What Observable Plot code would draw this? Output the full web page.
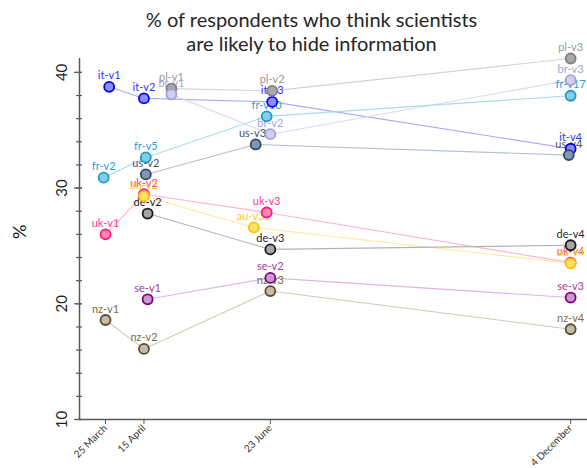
<!DOCTYPE html>
<html><head><meta charset="utf-8">
<script src="https://cdn.jsdelivr.net/npm/d3@7"></script>
<script src="https://cdn.jsdelivr.net/npm/@observablehq/plot@0.6"></script>
<style>body{margin:0;background:#fff}</style>
</head><body><div id="chart"></div>
<script>
// ---- data ----
const countries = ["it","pl","br","fr","us","uk","au","de","se","nz"];
const pointLabels = [
  "it-v1","it-v2","it-v3","it-v4",
  "pl-v1","pl-v2","pl-v3",
  "br-v1","br-v2","br-v3",
  "fr-v2","fr-v5","fr-v10","fr-v17",
  "us-v2","us-v31","us-v4",
  "uk-v1","uk-v2","uk-v3","uk-v4",
  "au-v2","au-v31","au-v4",
  "de-v2","de-v3","de-v4",
  "se-v1","se-v2","se-v3",
  "nz-v1","nz-v2","nz-v3","nz-v4"
];
const pointDates = [
  "2020-03-27","2020-04-15","2020-06-24","2020-12-04",
  "2020-04-30","2020-06-24","2020-12-04",
  "2020-04-30","2020-06-23","2020-12-04",
  "2020-03-24","2020-04-16","2020-06-21","2020-12-04",
  "2020-04-16","2020-06-15","2020-12-03",
  "2020-03-25","2020-04-15","2020-06-21","2020-12-04",
  "2020-04-15","2020-06-14","2020-12-04",
  "2020-04-17","2020-06-23","2020-12-04",
  "2020-04-17","2020-06-23","2020-12-04",
  "2020-03-25","2020-04-15","2020-06-23","2020-12-04"
];
const pointValues = [
  38.75, 37.75, 37.45, 33.4,
  38.6, 38.4, 41.2,
  38.1, 34.66, 39.33,
  30.9, 32.65, 36.2, 37.98,
  31.18, 33.77, 32.85,
  26.0, 29.47, 27.89, 23.56,
  29.3, 26.6, 23.5,
  27.8, 24.7, 25.06,
  20.39, 22.24, 20.54,
  18.6, 16.1, 21.1, 17.8
];
const tickDates = ["2020-03-25","2020-04-15","2020-06-23","2020-12-04"];
const tickLabels = ["25 March","15 April","23 June","4 December"];
const yTicks = [10, 20, 30, 40];
const titleLines = ["% of respondents who think scientists", "are likely to hide information"];
const yLabel = "%";

// ---- styles ----
const palette = {
  it: {label:"#3333ff", fill:"#8c8cff", stroke:"#0000ff", line:"#a8a8ff"},
  pl: {label:"#999999", fill:"#a8a8a8", stroke:"#808080", line:"#d4d4d4"},
  br: {label:"#a3a3dd", fill:"#cfcff0", stroke:"#a0a0d8", line:"#dadaf2"},
  fr: {label:"#1e9fd0", fill:"#84cde3", stroke:"#1a9cc8", line:"#a6dcec"},
  us: {label:"#44546a", fill:"#8596b0", stroke:"#2e4a6a", line:"#b4c0ce"},
  uk: {label:"#ff3399", fill:"#ff85b5", stroke:"#ff1a80", line:"#ffb3d3"},
  au: {label:"#ffc926", fill:"#ffe066", stroke:"#ffc000", line:"#ffe799"},
  de: {label:"#262626", fill:"#a6a6a6", stroke:"#1a1a1a", line:"#b3b3b3"},
  se: {label:"#a040a0", fill:"#cc99cc", stroke:"#800080", line:"#e2b4e2"},
  nz: {label:"#7f6a4a", fill:"#c4bcaa", stroke:"#5c4a2a", line:"#d2cabb"}
};

const parse = d3.utcParse("%Y-%m-%d");
const data = pointLabels.map((l, i) => ({
  label: l,
  country: l.split("-")[0],
  date: parse(pointDates[i]),
  value: pointValues[i]
}));
const tickD = tickDates.map(parse);
const fmt = new Map(tickD.map((d, i) => [+d, tickLabels[i]]));
const xmin = new Date(Date.UTC(2020, 2, 10, 19));
const xmax = new Date(Date.UTC(2020, 11, 13, 5));
const axisColor = "#595959";

const chart = Plot.plot({
  width: 587, height: 468,
  marginTop: 58, marginBottom: 49, marginLeft: 79, marginRight: 0,
  style: {fontFamily: "Lato, 'Open Sans', sans-serif", background: "white"},
  x: {type: "utc", domain: [xmin, xmax], axis: null},
  y: {domain: [10, 41.2], axis: null},
  color: {type: "identity"},
  marks: [
    Plot.ruleX([xmin], {stroke: axisColor, strokeWidth: 1.5}),
    Plot.ruleY([10], {stroke: axisColor, strokeWidth: 1.5}),
    Plot.ruleY(d3.range(10, 41, 2), {x1: xmin, x2: xmin, insetLeft: -3, insetRight: -3, stroke: axisColor, strokeWidth: 1.2}),
    Plot.ruleY(yTicks, {x1: xmin, x2: xmin, insetLeft: -5, insetRight: -3, stroke: axisColor, strokeWidth: 1.2}),
    Plot.text(yTicks, {x: xmin, y: d => d, text: d => String(d), rotate: -90, dx: -17, fontSize: 15, fill: "#222", textAnchor: "middle"}),
    Plot.axisX(tickD, {tickSize: 5, tickRotate: -45, tickFormat: d => fmt.get(+d), fontSize: 10, stroke: axisColor, color: "#333", tickPadding: 2}),
    Plot.text([yLabel], {frameAnchor: "left", text: d => d, rotate: -90, dx: -59, fontSize: 18, fill: "#111"}),
    Plot.text([titleLines.join("\n")], {frameAnchor: "top", text: d => d, dx: -22, dy: -49, lineAnchor: "top", fontSize: 20, lineHeight: 1.2, fill: "#262626"}),
    Plot.line(data, {x: "date", y: "value", z: "country", stroke: d => palette[d.country].line, strokeWidth: 1.1}),
    Plot.text(data, {x: "date", y: "value", text: "label", dy: -11, fontSize: 11, fill: d => palette[d.country].label}),
    Plot.dot(data, {x: "date", y: "value", r: 5, fill: d => palette[d.country].fill, stroke: d => palette[d.country].stroke, strokeWidth: 1.8})
  ]
});
document.getElementById("chart").append(chart);
</script>
</body></html>
